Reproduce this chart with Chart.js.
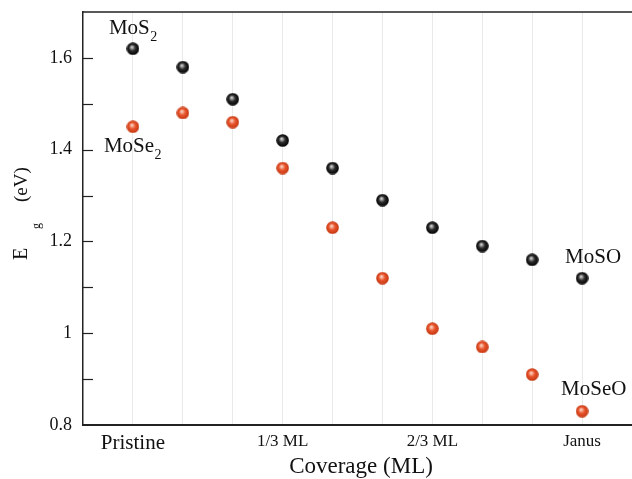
<!DOCTYPE html>
<html>
<head>
<meta charset="utf-8">
<script src="https://cdn.jsdelivr.net/npm/chart.js@4/dist/chart.umd.min.js"></script>
<style>
  html, body { margin: 0; padding: 0; background: #fff; }
  #wrap { width: 632px; height: 479px; }
</style>
</head>
<body>
<div id="wrap"><canvas id="gapChart" width="632" height="479"></canvas></div>
<script>
// coverage steps (only some of them carry a label)
const categories = ['Pristine', '', '', '1/3 ML', '', '', '2/3 ML', '', '', 'Janus'];
// band gaps (eV)
const mos2  = [1.62, 1.58, 1.51, 1.42, 1.36, 1.29, 1.23, 1.19, 1.16, 1.12];
const mose2 = [1.45, 1.48, 1.46, 1.36, 1.23, 1.12, 1.01, 0.97, 0.91, 0.83];
const seriesNames = ['MoS2', 'MoSe2'];

const serif = '"Liberation Serif", "DejaVu Serif", serif';

// shaded ball used as marker
function ball(light, mid, dark) {
    let c = document.createElement('canvas');
    c.width = 13; c.height = 13;
    let g = c.getContext('2d');
    let grad = g.createRadialGradient(5.4, 4.8, 0.5, 6.5, 6.5, 6.5);
    grad.addColorStop(0, light);
    grad.addColorStop(0.45, mid);
    grad.addColorStop(1, dark);
    g.fillStyle = grad;
    g.beginPath();
    g.arc(6.5, 6.5, 6.3, 0, Math.PI * 2);
    g.fill();
    return c;
}
const blackBall = ball('#d0d0d0', '#2a2a2a', '#000000');
const redBall = ball('#fbd2c0', '#e8542c', '#c23610');

// text next to points: which point, offset, main text + subscript
const notes = [
    { ds: 0, i: 0, dx: -24, dy: -15, main: 'MoS', sub: '2' },
    { ds: 1, i: 0, dx: -29, dy: 25, main: 'MoSe', sub: '2' },
    { ds: 0, i: 9, dx: -17, dy: -15, main: 'MoSO', sub: '' },
    { ds: 1, i: 9, dx: -21, dy: -16, main: 'MoSeO', sub: '' }
];

const framePlugin = {
    id: 'frame',
    afterDraw(chart) {
        let ctx = chart.ctx;
        let a = chart.chartArea;
        let y = chart.scales.y;
        ctx.save();
        // top border
        ctx.strokeStyle = '#222';
        ctx.lineWidth = 1.5;
        ctx.beginPath();
        ctx.moveTo(a.left, a.top);
        ctx.lineTo(a.right, a.top);
        ctx.stroke();
        // inward ticks on the y axis
        ctx.lineWidth = 1.2;
        y.ticks.forEach(function (t) {
            if (t.value <= y.min + 1e-6 || t.value >= y.max - 1e-6) return;
            let py = Math.round(y.getPixelForValue(t.value)) + 0.5;
            ctx.beginPath();
            ctx.moveTo(a.left, py);
            ctx.lineTo(a.left + 10, py);
            ctx.stroke();
        });

        // series labels
        ctx.fillStyle = '#111';
        ctx.textBaseline = 'alphabetic';
        ctx.textAlign = 'left';
        notes.forEach(function (n) {
            let pt = chart.getDatasetMeta(n.ds).data[n.i];
            let x = pt.x + n.dx;
            let by = pt.y + n.dy;
            ctx.font = '21px ' + serif;
            ctx.fillText(n.main, x, by);
            if (n.sub) {
                let w = ctx.measureText(n.main).width;
                ctx.font = '14px ' + serif;
                ctx.fillText(n.sub, x + w + 0.5, by + 7);
            }
        });

        // axis titles
        ctx.font = '23px ' + serif;
        ctx.textAlign = 'center';
        ctx.fillText('Coverage (ML)', 361, 473);

        ctx.translate(27, 260);
        ctx.rotate(-Math.PI / 2);
        ctx.textAlign = 'left';
        ctx.font = '20px ' + serif;
        ctx.fillText('E', 0, 0);
        ctx.font = '12px ' + serif;
        ctx.fillText('g', 31, 13);
        ctx.font = '19px ' + serif;
        ctx.fillText('(eV)', 58, 0);
        ctx.restore();
    }
};

let ctx = document.getElementById('gapChart');
new Chart(ctx, {
    type: 'scatter',
    data: {
        datasets: [
            {
                label: seriesNames[0],
                data: mos2.map(function (v, i) { return { x: i, y: v }; }),
                pointStyle: blackBall,
                pointRadius: 6,
                pointHoverRadius: 6
            },
            {
                label: seriesNames[1],
                data: mose2.map(function (v, i) { return { x: i, y: v }; }),
                pointStyle: redBall,
                pointRadius: 6,
                pointHoverRadius: 6
            }
        ]
    },
    options: {
        responsive: false,
        animation: false,
        devicePixelRatio: 1,
        layout: { autoPadding: false, padding: { top: 12, right: 0, left: 0, bottom: 0 } },
        plugins: {
            legend: { display: false },
            tooltip: { enabled: false }
        },
        scales: {
            x: {
                type: 'linear',
                min: -1,
                max: 10,
                afterFit: function (s) {
                    s.height = 54;
                    s.paddingLeft = 0;
                    s.paddingRight = 0;
                },
                grid: {
                    drawTicks: false,
                    lineWidth: 1,
                    color: function (c) {
                        let v = c.tick ? c.tick.value : -1;
                        return (v >= 0 && v <= 9) ? '#e9e9e9' : 'rgba(0,0,0,0)';
                    }
                },
                border: { color: '#222', width: 2 },
                ticks: {
                    stepSize: 1,
                    autoSkip: false,
                    maxRotation: 0,
                    padding: 6,
                    color: '#111',
                    font: function (c) {
                        let v = c.tick ? c.tick.value : 0;
                        return { family: serif, size: v === 0 ? 21 : 17 };
                    },
                    callback: function (v) {
                        return (v >= 0 && v < categories.length) ? categories[v] : '';
                    }
                }
            },
            y: {
                min: 0.8,
                max: 1.7,
                afterFit: function (s) {
                    s.width = 83;
                    s.paddingTop = 0;
                    s.paddingBottom = 0;
                },
                grid: { display: false, drawTicks: false },
                border: { color: '#222', width: 1.5 },
                ticks: {
                    stepSize: 0.1,
                    padding: 11,
                    color: '#111',
                    font: { family: serif, size: 18 },
                    callback: function (v) {
                        let r = Math.round(v * 10);
                        return (r % 2 === 0 && r < 17) ? String(r / 10) : '';
                    }
                }
            }
        }
    },
    plugins: [framePlugin]
});
</script>
</body>
</html>
